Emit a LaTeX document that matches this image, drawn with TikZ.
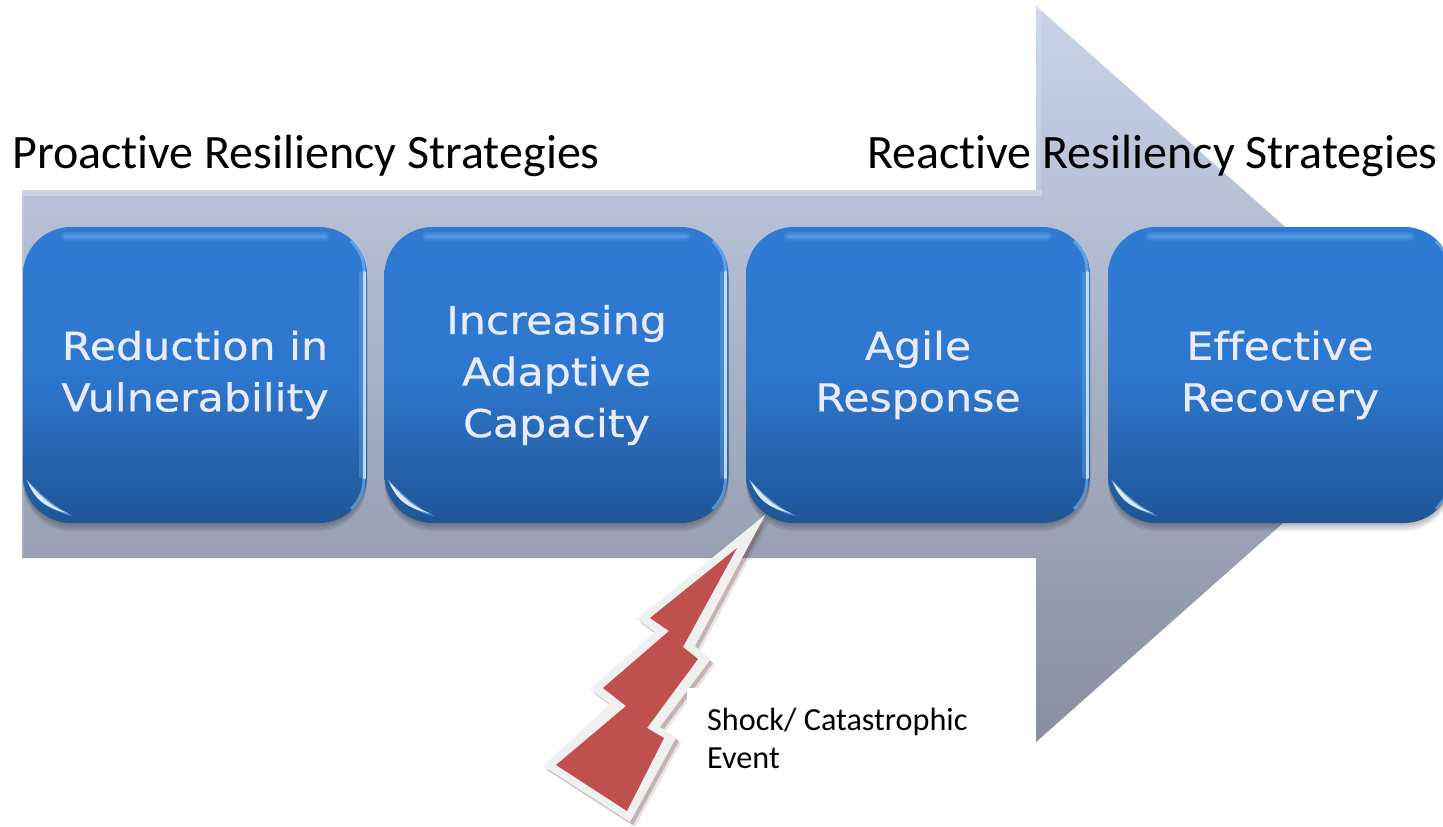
\documentclass[tikz,border=0pt]{standalone}
\usepackage{fontspec}
\setmainfont[Ligatures=NoCommon]{Carlito}
\newfontfamily\boxfont[Ligatures=NoCommon,FakeStretch=1.11,FakeBold=0.6]{DejaVu Sans}
\usetikzlibrary{calc,shadings}
\definecolor{arrowtop}{HTML}{C8D3EA}
\definecolor{arrowmid}{HTML}{ACB8CF}
\definecolor{arrowbot}{HTML}{888E9F}
\definecolor{boxtop}{HTML}{2F7AD3}
\definecolor{boxbot}{HTML}{1F5596}
\definecolor{boltred}{HTML}{C0504D}
\definecolor{boltrim}{HTML}{F0F0F0}
\definecolor{glint}{HTML}{D6ECFA}
\definecolor{sheen}{HTML}{8CCBFF}
\tikzset{
  x=1pt,y=-1pt,
  stepbox/.style={minimum width=344pt,minimum height=296pt,inner sep=0pt,outer sep=0pt,
    rounded corners=48pt,top color=boxtop,bottom color=boxbot,middle color=boxtop!92!boxbot,
    text=white!92!blue,align=center,font=\boxfont\fontsize{38.5}{51.5}\selectfont,
    execute at begin node={\rule{0pt}{34pt}}},
  boxshadow/.style={fill=black,opacity=.07,rounded corners=48pt},
  titletext/.style={anchor=base west,inner sep=0pt,font=\fontsize{48}{56}\selectfont},
  shocktext/.style={anchor=base west,inner sep=0pt,align=left,font=\fontsize{32.2}{38}\selectfont},
  boltoutline/.style={insert path={
    (765,515) -- (637,619) -- (655,632) -- (590,689) -- (610,704) -- (543,766) -- (630,822)
    -- (676,738) -- (660,727) -- (710,660) -- (695,646) -- cycle}},
}
\begin{document}
\begin{tikzpicture}
\useasboundingbox (0,0) rectangle (1443,827);
\clip (0,0) rectangle (1443,827);
\fill[white] (0,0) rectangle (1443,827);
% big arrow
\shade[top color=arrowtop,middle color=arrowmid,bottom color=arrowbot]
  (22,190) -- (1036,190) -- (1036,6) -- (1451,374) -- (1036,742) -- (1036,558) -- (22,558) -- cycle;
\draw[white,opacity=.3,line width=6pt] (22,193) -- (1042,193);
\draw[white,opacity=.15,line width=5pt] (1038.5,8) -- (1038.5,190);
\draw[white,opacity=.15,line width=2pt] (23,196) -- (23,557);
% box shadows
\foreach \cx in {195,556.5,918,1280} {
  \foreach \d in {2,4,6,8} {
    \path[boxshadow] (\cx-172,227+\d) rectangle (\cx+172,523+\d);
  }
}
% boxes
\foreach \nm/\cx/\txt in {ba/195/{Reduction in\\Vulnerability},
                          bb/556.5/{Increasing\\Adaptive\\Capacity},
                          bc/918/{Agile\\Response},
                          bd/1280/{Effective\\Recovery}} {
  \node[stepbox] (\nm) at (\cx,375) {\txt};
  % top highlight
  \foreach \w/\o in {9/.10,6/.14,3/.2} {
    \draw[line width=\w pt,color=sheen,opacity=\o,line cap=round]
      ($(\nm.north west)+(42,9)$) -- ($(\nm.north east)+(-42,9)$);
  }
  % right edge glint
  \draw[line width=7pt,color=sheen,opacity=.25]
    ($(\nm.north east)+(-5,45)$) -- ($(\nm.south east)+(-5,-45)$);
  \draw[line width=3pt,color=glint,opacity=.85,line cap=round]
    ($(\nm.north east)+(-3,45)$) -- ($(\nm.south east)+(-3,-45)$);
  \draw[line width=3pt,color=sheen,opacity=.5]
    ($(\nm.north east)+(-3,45)$) .. controls +(0,-15) and +(8,8) .. ($(\nm.north east)+(-16,14)$);
  \draw[line width=3pt,color=sheen,opacity=.5]
    ($(\nm.south east)+(-3,-45)$) .. controls +(0,15) and +(8,-8) .. ($(\nm.south east)+(-16,-14)$);
  % lower-left crescent
  \fill[sheen,opacity=.6]
    ($(\nm.south west)+(3,-44)$) .. controls +(7,19) and +(-20,-4) .. ($(\nm.south west)+(50,-7)$)
    .. controls +(-18,-8) and +(11,12) .. cycle;
  \fill[glint]
    ($(\nm.south west)+(5,-41)$) .. controls +(7,19) and +(-20,-4) .. ($(\nm.south west)+(45,-10)$)
    .. controls +(-18,-6) and +(11,12) .. cycle;
}
% titles
\node[titletext] (tp) at (12,168) {Proactive Resiliency Strategies};
\node[titletext] (tr) at (867,168) {Reactive Resiliency Strategies};
% lightning bolt
\foreach \d/\o in {5/.12,3/.25} {
  \fill[black!55!boltred,opacity=\o,shift={(\d,\d)},boltoutline];
}
\fill[boltrim,boltoutline];
\fill[boltred]
  (737,548) -- (650,618) -- (669,631) -- (603,688) -- (626,706) -- (556,765) -- (627,811)
  -- (664,738) -- (647,728) -- (698,659) -- (683,647) -- cycle;
% white panel behind the label
\fill[white] (687,688) rectangle (975,775);
% label
\node[shocktext] (sk) at (707,730) {Shock/ Catastrophic};
\node[shocktext] (ev) at (707,768) {Event};
\end{tikzpicture}
\end{document}
